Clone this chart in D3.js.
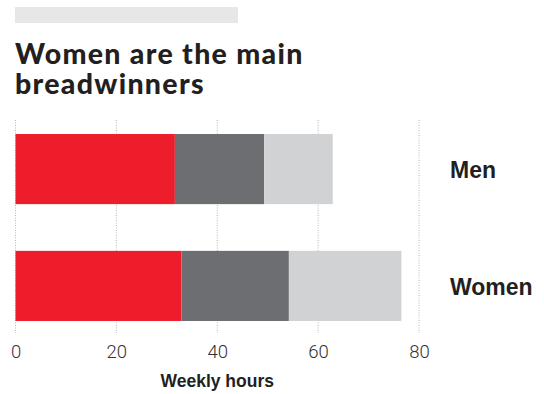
<!DOCTYPE html>
<html><head><meta charset="utf-8">
<script src="https://cdn.jsdelivr.net/npm/d3@7"></script>
<style>body{margin:0;background:#fff}svg{display:block}</style>
</head><body>
<script>
const categories = ["Men", "Women"];
const seriesNames = ["Paid work", "Unpaid work", "Other"];
const paidWork = [31.6, 32.9];
const unpaidWork = [17.7, 21.3];
const otherWork = [13.6, 22.3];
const tickValues = [0, 20, 40, 60, 80];
const colors = ["#ee1d2b", "#6d6e71", "#d1d2d4"];

const W = 544, H = 394;
const svg = d3.select("body").append("svg").attr("width", W).attr("height", H);

svg.append("rect").attr("x", 15).attr("y", 7).attr("width", 223).attr("height", 16).attr("fill", "#e6e7e8");

const titleLines = ["Women are the main", "breadwinners"];
svg.append("g").selectAll("text").data(titleLines).join("text")
  .attr("x", 15).attr("y", (d, i) => 64 + i * 30)
  .attr("fill", "#231f20")
  .style("font-family", "Lato").style("font-weight", 900).style("font-size", "28.5px")
  .style("letter-spacing", "1.3px")
  .text(d => d);

const x = d3.scaleLinear().domain([0, 80]).range([15.5, 419]);
const y = d3.scaleBand().domain(categories).range([120, 335]).paddingInner(0.4).paddingOuter(0.12);

// grid
svg.append("g").selectAll("line").data(tickValues).join("line")
  .attr("x1", d => x(d)).attr("x2", d => x(d)).attr("y1", 120).attr("y2", 333)
  .attr("stroke", "#b5b5b5").attr("stroke-width", 1).attr("stroke-dasharray", "1,1.5");

const stackData = categories.map((c, i) => ({cat: c, paid: paidWork[i], unpaid: unpaidWork[i], other: otherWork[i]}));
const stack = d3.stack().keys(["paid", "unpaid", "other"])(stackData);

svg.append("g").selectAll("g").data(stack).join("g")
  .attr("fill", (d, i) => colors[i])
  .selectAll("rect").data(d => d).join("rect")
  .attr("x", d => x(d[0])).attr("width", d => x(d[1]) - x(d[0]))
  .attr("y", d => y(d.data.cat)).attr("height", y.bandwidth());

// axis
const axis = d3.axisBottom(x).tickValues(tickValues).tickSize(0).tickPadding(0);
const ag = svg.append("g").attr("transform", "translate(0,340)").call(axis);
ag.select(".domain").remove();
ag.selectAll("text").attr("dy", "0").attr("y", 18.3)
  .style("font-family", "Roboto").style("font-weight", 300).style("font-size", "18.5px").attr("fill", "#333");

svg.append("text").attr("x", x(40)).attr("y", 387).attr("text-anchor", "middle")
  .style("font-family", "Liberation Sans").style("font-weight", "bold").style("font-size", "17.5px")
  .attr("fill", "#231f20").text("Weekly hours");

svg.append("g").selectAll("text").data(categories).join("text")
  .attr("x", 450).attr("y", d => y(d) + y.bandwidth() / 2 + 9)
  .style("font-family", "Liberation Sans").style("font-weight", "bold").style("font-size", "23px")
  .attr("fill", "#231f20").text(d => d);
</script>
</body></html>
